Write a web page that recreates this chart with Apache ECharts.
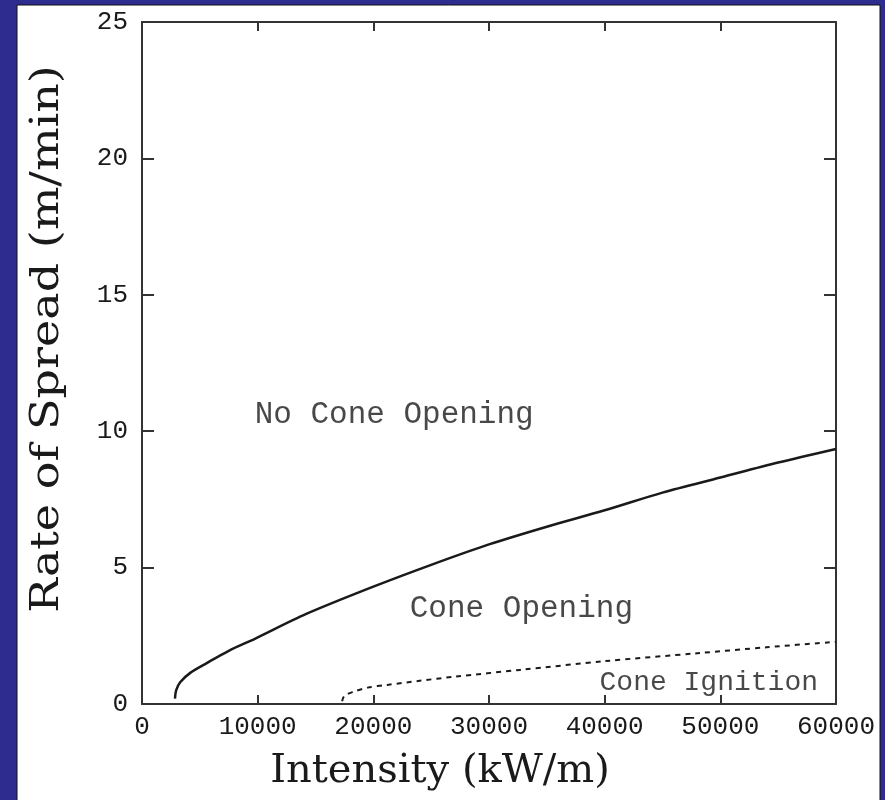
<!DOCTYPE html>
<html>
<head>
<meta charset="utf-8">
<script src="https://cdn.jsdelivr.net/npm/echarts@6/dist/echarts.min.js"></script>
<style>
  html, body { margin: 0; padding: 0; background: #2e2d8f; }
  #chart { width: 885px; height: 800px; }
</style>
</head>
<body>
<div id="chart"></div>
<script>
// values: intensity (kW/m), rate of spread (m/min)
const coneOpening = [
  [2850, 0.2], [2950, 0.5], [3300, 0.8], [4200, 1.15], [5600, 1.5],
  [7500, 1.95], [9800, 2.4], [14200, 3.3], [20000, 4.3], [25000, 5.1],
  [30000, 5.85], [35000, 6.5], [40000, 7.1], [45000, 7.75], [50000, 8.3],
  [55000, 8.85], [60000, 9.35]
]
const coneIgnition = [
  [17300, 0.1], [17500, 0.3], [18300, 0.45], [19500, 0.6], [21200, 0.7],
  [24000, 0.85], [27000, 1.0], [32700, 1.25], [40000, 1.57], [48000, 1.86],
  [54000, 2.08], [60000, 2.28]
]
const regionLabels = [
  [21800, 10.6, 'No Cone Opening', 31],
  [32800, 3.5, 'Cone Opening', 31],
  [49000, 0.8, 'Cone Ignition', 28]
]
const xTicks = [0, 10000, 20000, 30000, 40000, 50000, 60000]
const yTicks = [0, 5, 10, 15, 20, 25]

const INK = '#1a1a1a'
const MONO = '"Liberation Mono", "DejaVu Sans Mono", monospace'
const SERIF = '"DejaVu Serif", serif'

const chart = echarts.init(document.getElementById('chart'))

const boxAxis = {
  axisLine: { show: true, onZero: false, lineStyle: { color: '#333', width: 2 } },
  splitLine: { show: false },
}
const tick = function (len) {
  return { show: true, inside: true, length: len, lineStyle: { color: '#333', width: 2 } }
}

const option = {
  backgroundColor: '#2e2d8f',
  animation: false,
  graphic: [
    {
      type: 'rect',
      z: -10,
      shape: { x: 17, y: 5, width: 863, height: 800 },
      style: { fill: '#fff', stroke: '#111', lineWidth: 1 },
    },
    {
      type: 'text',
      x: 48,
      y: 339,
      rotation: Math.PI / 2,
      scaleX: 1.18,
      style: {
        text: 'Rate of Spread (m/min)',
        font: '39px ' + SERIF,
        fill: INK,
        align: 'center',
        verticalAlign: 'middle',
      },
    },
    {
      type: 'text',
      x: 440,
      y: 772,
      style: {
        text: 'Intensity (kW/m)',
        font: '40px ' + SERIF,
        fill: INK,
        align: 'center',
        verticalAlign: 'middle',
      },
    },
  ],
  grid: { left: 142, top: 22, right: 49, bottom: 96 },
  xAxis: [
    {
      ...boxAxis,
      type: 'value',
      min: xTicks[0],
      max: xTicks[xTicks.length - 1],
      interval: 10000,
      axisTick: tick(9),
      axisLabel: {
        color: INK,
        fontFamily: MONO,
        fontSize: 26,
        margin: 10,
        showMinLabel: true,
        showMaxLabel: true,
        formatter: function (v) { return String(v) },
      },
    },
    {
      ...boxAxis,
      type: 'value',
      position: 'top',
      min: xTicks[0],
      max: xTicks[xTicks.length - 1],
      interval: 10000,
      axisTick: tick(9),
      axisLabel: { show: false },
    },
  ],
  yAxis: [
    {
      ...boxAxis,
      type: 'value',
      min: yTicks[0],
      max: yTicks[yTicks.length - 1],
      interval: 5,
      axisTick: tick(12),
      axisLabel: { color: INK, fontFamily: MONO, fontSize: 26, margin: 14 },
    },
    {
      ...boxAxis,
      type: 'value',
      position: 'right',
      min: yTicks[0],
      max: yTicks[yTicks.length - 1],
      interval: 5,
      axisTick: tick(12),
      axisLabel: { show: false },
    },
  ],
  series: [
    {
      type: 'line',
      data: coneOpening,
      smooth: 0.3,
      symbol: 'none',
      lineStyle: { color: INK, width: 2.5 },
    },
    {
      type: 'line',
      data: coneIgnition,
      smooth: 0.3,
      symbol: 'none',
      lineStyle: { color: INK, width: 2, type: [5, 5] },
    },
    {
      type: 'scatter',
      symbolSize: 0,
      data: regionLabels.map(function (d) {
        return {
          value: [d[0], d[1]],
          label: {
            show: true,
            position: 'inside',
            formatter: d[2],
            color: INK,
            fontFamily: MONO,
            fontSize: d[3],
          },
        }
      }),
      silent: true,
    },
  ],
}

chart.setOption(option)
</script>
</body>
</html>
